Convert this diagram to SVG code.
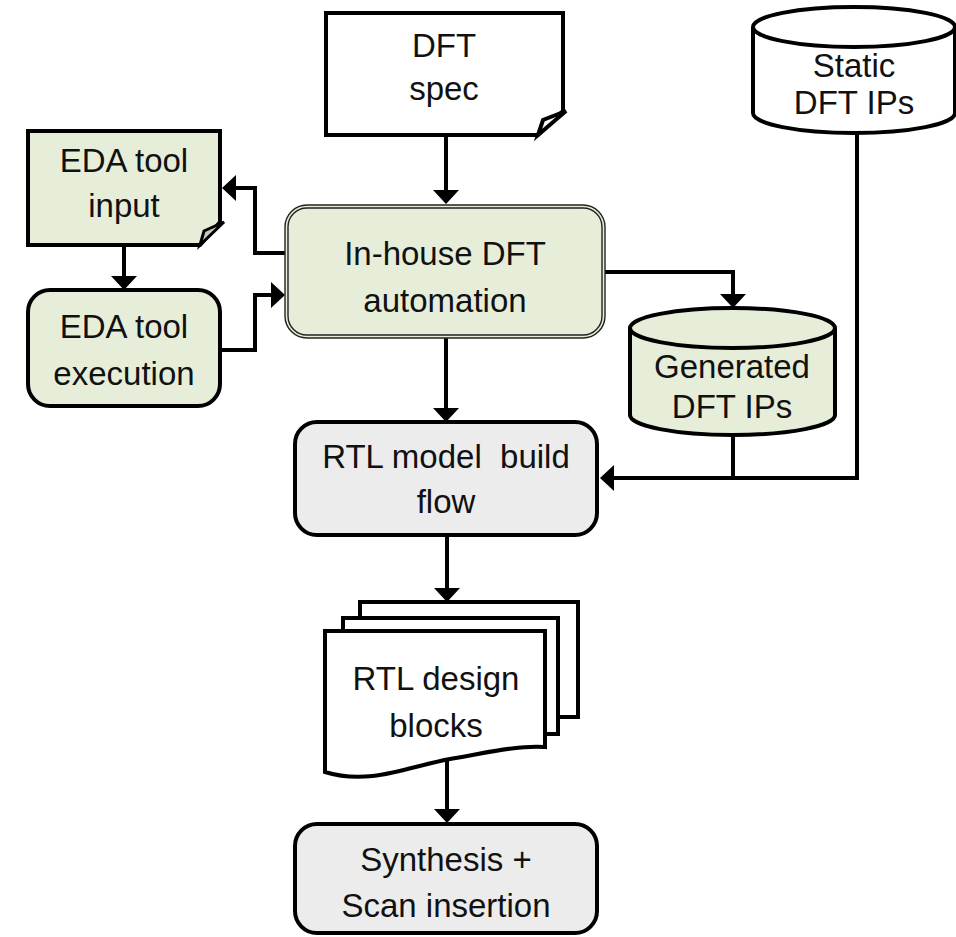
<svg xmlns="http://www.w3.org/2000/svg" width="956" height="937" viewBox="0 0 956 937">
  <style>
    .lbl { font-family: "Liberation Sans", Arial, sans-serif; font-size: 33px; fill: #111; text-anchor: middle; white-space: pre; }
    .shape { stroke: #000; stroke-width: 4; stroke-linejoin: miter; }
    .green { fill: #e6eed9; }
    .grey { fill: #ececec; }
    .white { fill: #fff; }
    .wire { fill: none; stroke: #000; stroke-width: 4; stroke-linejoin: miter; }
    .thin { fill: none; stroke: #222; stroke-width: 1.4; }
  </style>
  <defs>
    <marker id="arrow" viewBox="0 0 14 26" refX="0" refY="13" markerWidth="14" markerHeight="26" markerUnits="userSpaceOnUse" orient="auto">
      <path d="M0,0 L14,13 L0,26 Z" fill="#000"/>
    </marker>
  </defs>

  <!-- connectors -->
  <g id="connectors">
    <path class="wire" d="M446,136 V190" marker-end="url(#arrow)"/>
    <path class="wire" d="M285,253 H255 V188 H236" marker-end="url(#arrow)"/>
    <path class="wire" d="M124,246 V276" marker-end="url(#arrow)"/>
    <path class="wire" d="M220,350 H255 V295 H271" marker-end="url(#arrow)"/>
    <path class="wire" d="M605,272 H733 V294" marker-end="url(#arrow)"/>
    <path class="wire" d="M446,338 V408" marker-end="url(#arrow)"/>
    <path class="wire" d="M733,435 V478"/>
    <path class="wire" d="M857,134 V478 H614" marker-end="url(#arrow)"/>
    <path class="wire" d="M447,535 V588" marker-end="url(#arrow)"/>
    <path class="wire" d="M447,760 V809" marker-end="url(#arrow)"/>
  </g>

  <!-- DFT spec (note with folded corner) -->
  <g id="dft-spec">
    <path class="shape white" d="M326,13 H563 V111 L538,135 H326 Z"/>
    <path class="shape white" stroke-width="3" d="M538,135 L543,120 L566,111 Z"/>
    <text class="lbl" x="444" y="57">DFT</text>
    <text class="lbl" x="444" y="100">spec</text>
  </g>

  <!-- Static DFT IPs (cylinder) -->
  <g id="static-dft-ips">
    <path class="shape white" d="M753,27 V113 A101,20 0 0 0 955,113 V27"/>
    <ellipse class="shape white" cx="854" cy="27" rx="101" ry="20"/>
    <text class="lbl" x="854" y="77">Static</text>
    <text class="lbl" x="854" y="114">DFT IPs</text>
  </g>

  <!-- EDA tool input (note with folded corner) -->
  <g id="eda-tool-input">
    <path class="shape green" d="M28,131 H220 V222 L200,245 H28 Z"/>
    <path fill="#c4cbb9" stroke="#000" stroke-width="3" d="M200,245 L204,231 L224,222 Z"/>
    <text class="lbl" x="124" y="172">EDA tool</text>
    <text class="lbl" x="124" y="217">input</text>
  </g>

  <!-- EDA tool execution -->
  <g id="eda-tool-execution">
    <rect class="shape green" x="28" y="290" width="192" height="116" rx="22"/>
    <text class="lbl" x="124" y="338">EDA tool</text>
    <text class="lbl" x="124" y="385">execution</text>
  </g>

  <!-- In-house DFT automation (double outline) -->
  <g id="inhouse-dft-automation">
    <rect class="green" x="285" y="205" width="320" height="133" rx="22"/>
    <rect class="thin" x="285" y="205" width="320" height="133" rx="22"/>
    <rect class="thin" x="288" y="208" width="314" height="127" rx="19"/>
    <text class="lbl" x="445" y="265">In-house DFT</text>
    <text class="lbl" x="445" y="312">automation</text>
  </g>

  <!-- Generated DFT IPs (cylinder) -->
  <g id="generated-dft-ips">
    <path class="shape green" d="M630,328 V415 A102.5,20 0 0 0 835,415 V328"/>
    <ellipse class="shape green" cx="732.5" cy="328" rx="102.5" ry="20"/>
    <text class="lbl" x="732" y="378">Generated</text>
    <text class="lbl" x="732" y="418">DFT IPs</text>
  </g>

  <!-- RTL model build flow -->
  <g id="rtl-model-build-flow">
    <rect class="shape grey" x="295" y="422" width="302" height="113" rx="22"/>
    <text class="lbl" x="446" y="468">RTL model  build</text>
    <text class="lbl" x="446" y="513">flow</text>
  </g>

  <!-- RTL design blocks (stack of documents) -->
  <g id="rtl-design-blocks">
    <rect class="shape white" x="360" y="602" width="218" height="115"/>
    <rect class="shape white" x="343" y="618" width="215" height="116"/>
    <path class="shape white" d="M325,631 H545 V747 C520,745 490,752 450,759 C410,766 370,786 325,772 Z"/>
    <text class="lbl" x="436" y="690">RTL design</text>
    <text class="lbl" x="436" y="737">blocks</text>
  </g>

  <!-- Synthesis + Scan insertion -->
  <g id="synthesis-scan-insertion">
    <rect class="shape grey" x="295" y="824" width="302" height="109" rx="22"/>
    <text class="lbl" x="446" y="871">Synthesis +</text>
    <text class="lbl" x="446" y="917">Scan insertion</text>
  </g>
</svg>
